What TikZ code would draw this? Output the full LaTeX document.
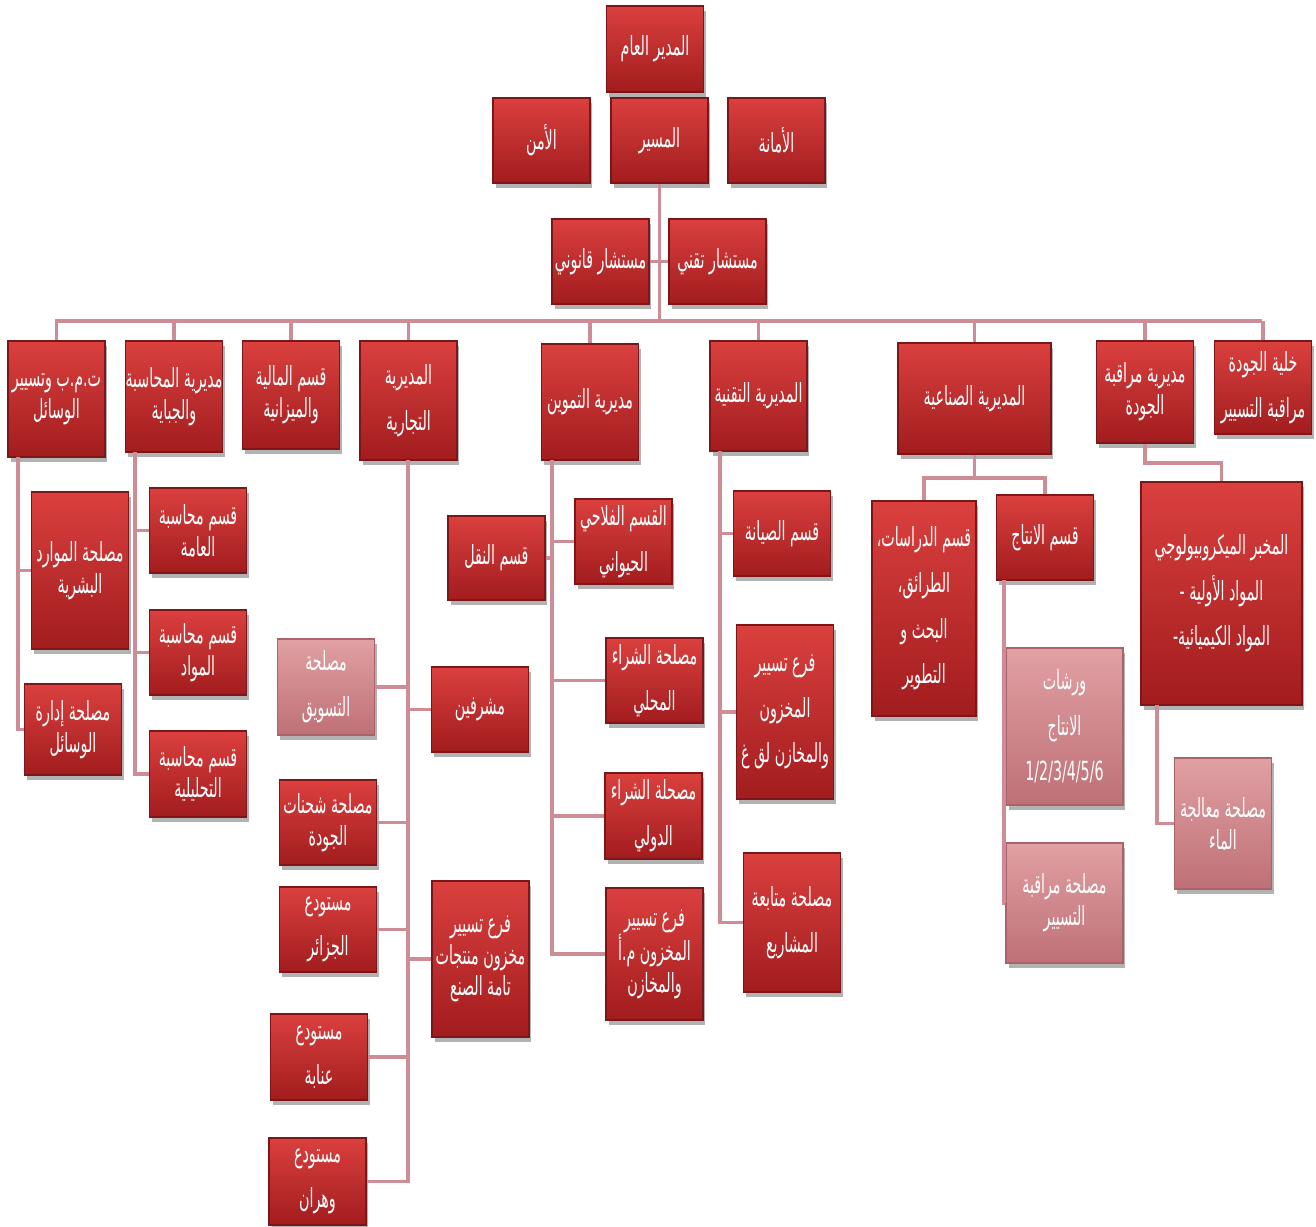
\documentclass[tikz,border=0pt]{standalone}
\usepackage{fontspec}
\usetikzlibrary{shadows}
\TeXXeTstate=1
\newfontfamily\arabicfont[Script=Arabic,FakeStretch=0.54]{DejaVu Sans}
\newcommand{\arl}[1]{\beginR #1\endR}
\definecolor{boxtop}{RGB}{218,64,62}
\definecolor{boxbot}{RGB}{162,28,30}
\definecolor{boxline}{RGB}{125,22,24}
\definecolor{fadetop}{RGB}{225,160,163}
\definecolor{fadebot}{RGB}{190,112,118}
\definecolor{fadeline}{RGB}{170,100,105}
\definecolor{linkcol}{RGB}{206,140,150}

\begin{document}
\begin{tikzpicture}[x=0.02cm, y=-0.02cm,
    box/.style={draw=boxline, line width=0.7pt, top color=boxtop, bottom color=boxbot,
      text=white, align=center, minimum width=1.94cm, inner sep=1pt,
      font=\arabicfont\fontsize{15}{18}\selectfont,
      drop shadow={shadow xshift=0.05cm, shadow yshift=-0.1cm, fill=black, opacity=0.3}},
    pale/.style={box, draw=fadeline, top color=fadetop, bottom color=fadebot},
    loose/.style={font=\arabicfont\fontsize{15}{26}\selectfont},
    link/.style={draw=linkcol, line width=2pt}]
        \useasboundingbox (0,0) rectangle (1316,1227);

        % top of the chart
        \node[box, minimum height=1.72cm] (gm) at (655,49) {\arl{المدير العام}};
        \node[box, minimum height=1.7cm] (amn) at (541.5,140.5) {\arl{الأمن}};
        \node[box, minimum height=1.7cm] (msr) at (659.5,140.5) {\arl{المسير}};
        \node[box, minimum height=1.7cm] (amana) at (776.5,140.5) {\arl{الأمانة}};

        \coordinate (busL) at (55,321);
        \coordinate (busR) at (1262,321);
        \draw[link] (busL) -- (busR);
        \draw[link] (msr) -- (msr |- busL);

        \node[box, minimum height=1.7cm] (qnn) at (600.5,261.5) {\arl{مستشار قانوني}};
        \node[box, minimum height=1.7cm] (tqn) at (717.5,261.5) {\arl{مستشار تقني}};
        \draw[link] (qnn) -- (tqn);

        % directions
        \node[box, minimum height=2.32cm] (tmb) at (56.5,399) {\arl{ت.م.ب وتسيير}\\\arl{الوسائل}};
        \node[box, minimum height=2.22cm, inner sep=0pt] (mhs) at (174,396.5) {\arl{مديرية المحاسبة}\\\arl{والجباية}};
        \node[box, minimum height=2.16cm] (mal) at (291,395) {\arl{قسم المالية}\\\arl{والميزانية}};
        \node[box, loose, minimum height=2.38cm] (tij) at (408.5,400.5) {\arl{المديرية}\\\arl{التجارية}};
        \node[box, minimum height=2.32cm] (tam) at (590,402) {\arl{مديرية التموين}};
        \node[box, minimum height=2.2cm] (tiq) at (758.5,396) {\arl{المديرية التقنية}};
        \node[box, minimum width=3.06cm, minimum height=2.22cm] (sin) at (974.5,398.5) {\arl{المديرية الصناعية}};
        \node[box, minimum height=2.04cm] (jwd) at (1145,392) {\arl{مديرية مراقبة}\\\arl{الجودة}};
        \node[box, loose, minimum height=1.86cm] (khl) at (1263,387.5) {\arl{خلية الجودة}\\\arl{مراقبة التسيير}};

        \foreach \d in {tmb,mhs,mal,tij,tam,tiq,sin,jwd,khl}
            \draw[link] (\d) -- (\d |- busL);

        % moyens
        \coordinate (tmbT) at (18,457);
        \node[box, minimum height=3.14cm] (hr) at (80,570.5) {\arl{مصلحة الموارد}\\\arl{البشرية}};
        \node[box, minimum height=1.82cm] (wsl) at (73,729.5) {\arl{مصلحة إدارة}\\\arl{الوسائل}};
        \draw[link] (tmbT) |- (hr);
        \draw[link] (tmbT) |- (wsl);

        % comptabilite
        \coordinate (mhsT) at (135,452);
        \node[box, minimum height=1.7cm] (am) at (198,530.5) {\arl{قسم محاسبة}\\\arl{العامة}};
        \node[box, minimum height=1.7cm] (mwd) at (198,652.5) {\arl{قسم محاسبة}\\\arl{المواد}};
        \node[box, minimum height=1.72cm] (tah) at (198,774) {\arl{قسم محاسبة}\\\arl{التحليلية}};
        \foreach \c in {am,mwd,tah}
            \draw[link] (mhsT) |- (\c);

        % commerciale
        \coordinate (tijT) at (408,460);
        \node[pale, loose, minimum height=1.92cm] (tsw) at (326,687) {\arl{مصلحة}\\\arl{التسويق}};
        \node[box, minimum height=1.7cm] (shn) at (328,822.5) {\arl{مصلحة شحنات}\\\arl{الجودة}};
        \node[box, loose, minimum height=1.7cm] (dz) at (328,929.5) {\arl{مستودع}\\\arl{الجزائر}};
        \node[box, loose, minimum height=1.72cm] (ann) at (319,1057) {\arl{مستودع}\\\arl{عنابة}};
        \node[box, loose, minimum height=1.74cm] (whr) at (317.5,1181.5) {\arl{مستودع}\\\arl{وهران}};
        \node[box, minimum height=1.7cm] (msh) at (480,709.5) {\arl{مشرفين}};
        \node[box, minimum height=3.12cm] (frt) at (480.5,959) {\arl{فرع تسيير}\\\arl{مخزون منتجات}\\\arl{تامة الصنع}};
        \foreach \c in {tsw,shn,dz,ann,whr,msh,frt}
            \draw[link] (tijT) |- (\c);

        % approvisionnement
        \coordinate (tamT) at (552,460);
        \node[box, minimum height=1.68cm] (nql) at (496.5,558) {\arl{قسم النقل}};
        \node[box, loose, minimum height=1.7cm] (flh) at (623.5,541.5) {\arl{القسم الفلاحي}\\\arl{الحيواني}};
        \node[box, loose, minimum height=1.7cm] (shm) at (654.5,680.5) {\arl{مصلحة الشراء}\\\arl{المحلي}};
        \node[box, loose, minimum height=1.72cm] (shd) at (653.5,816) {\arl{مصحلة الشراء}\\\arl{الدولي}};
        \node[box, minimum height=2.64cm] (frm) at (654.5,954) {\arl{فرع تسيير}\\\arl{المخزون م.أ}\\\arl{والمخازن}};
        \foreach \c in {nql,flh,shm,shd,frm}
            \draw[link] (tamT) |- (\c);

        % technique
        \coordinate (tiqT) at (720,451);
        \node[box, minimum height=1.7cm] (syn) at (782,533.5) {\arl{قسم الصيانة}};
        \node[box, loose, minimum height=3.48cm] (frg) at (785,712) {\arl{فرع تسيير}\\\arl{المخزون}\\\arl{والمخازن لق غ}};
        \node[box, loose, minimum height=2.78cm] (mtb) at (792,922.5) {\arl{مصلحة متابعة}\\\arl{المشاريع}};
        \foreach \c in {syn,frg,mtb}
            \draw[link] (tiqT) |- (\c);

        % industrielle
        \coordinate (sinJ) at (974.5,478);
        \node[box, loose, minimum width=2.08cm, minimum height=4.3cm] (drs) at (924,608.5) {\arl{قسم الدراسات،}\\\arl{الطرائق،}\\\arl{البحث و}\\\arl{التطوير}};
        \node[box, minimum height=1.7cm] (ntj) at (1045,537.5) {\arl{قسم الانتاج}};
        \draw[link] (sin) -- (sinJ) -| (drs);
        \draw[link] (sinJ) -| (ntj);

        \coordinate (ntjT) at (1004,580);
        \node[pale, loose, minimum width=2.34cm, minimum height=3.14cm] (wrsh) at (1064.5,726.5) {\arl{ورشات}\\\arl{الانتاج}\\1/2/3/4/5/6};
        \node[pale, minimum width=2.34cm, minimum height=2.4cm] (mrq) at (1064.5,903) {\arl{مصلحة مراقبة}\\\arl{التسيير}};
        \draw[link] (ntjT) |- (wrsh);
        \draw[link] (ntjT) |- (mrq);

        % qualite
        \coordinate (jwdJ) at (1145,463);
        \node[box, loose, minimum width=3.22cm, minimum height=4.46cm] (lab) at (1221.5,593.5) {\arl{المخبر الميكروبيولوجي}\\\arl{المواد الأولية -}\\\arl{المواد الكيميائية-}};
        \draw[link] (jwd) -- (jwdJ) -| (lab);

        \coordinate (labT) at (1157,705);
        \node[pale, minimum height=2.62cm] (mae) at (1223,823.5) {\arl{مصلحة معالجة}\\\arl{الماء}};
        \draw[link] (labT) |- (mae);
    \end{tikzpicture}
\end{document}
